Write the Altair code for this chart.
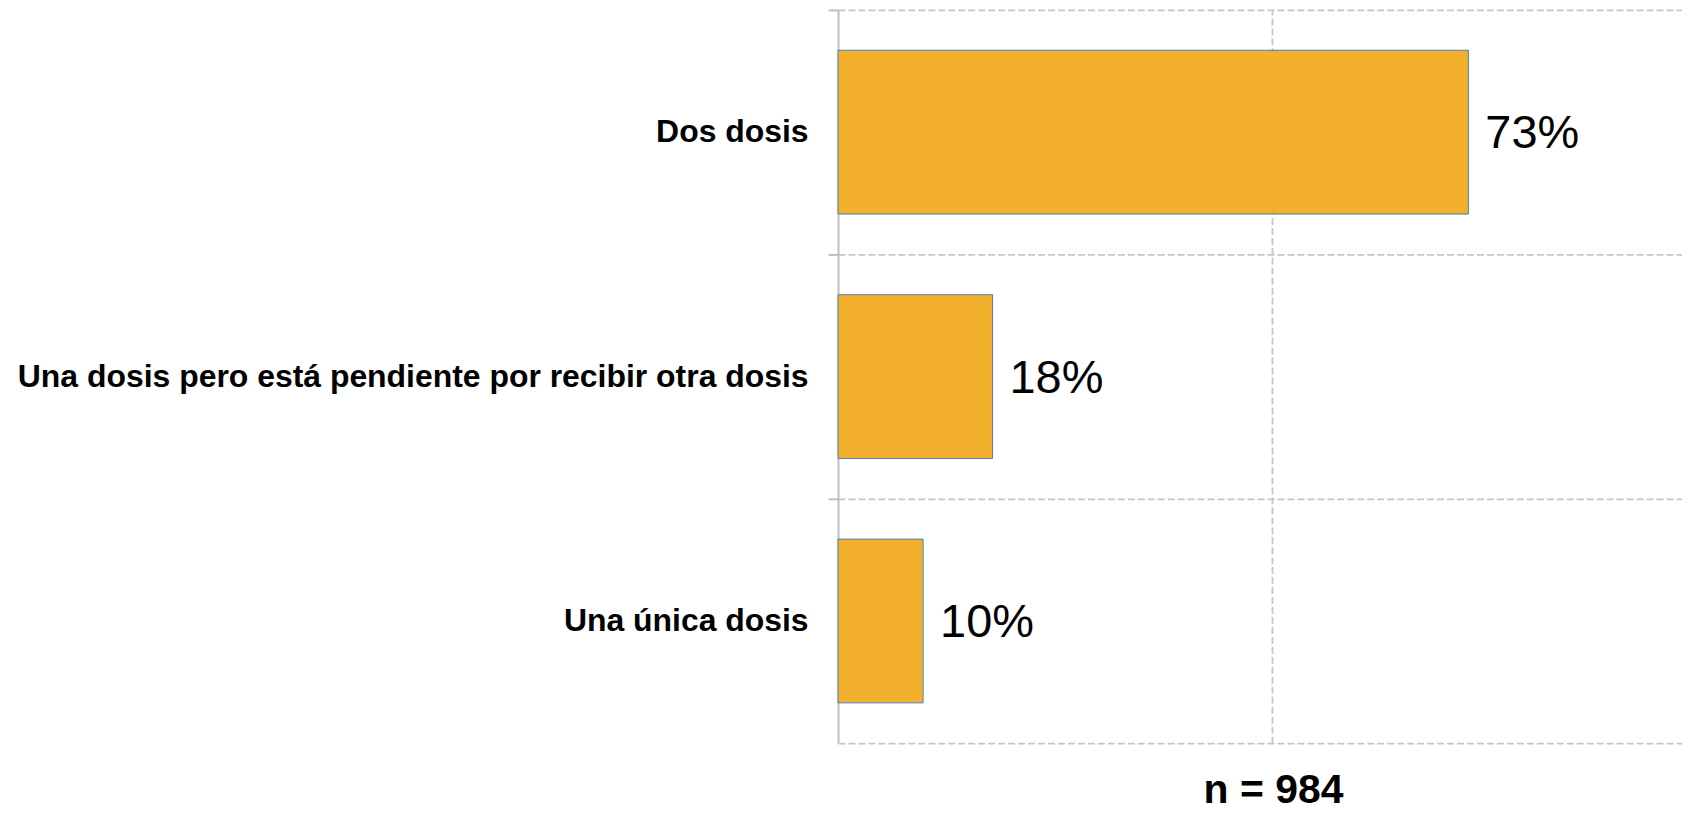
import altair as alt
import pandas as pd

categories = [
    "Dos dosis",
    "Una dosis pero está pendiente por recibir otra dosis",
    "Una única dosis",
]
values = [72.6, 17.8, 9.8]
labels = ["73%", "18%", "10%"]
n_label = "n = 984"

df = pd.DataFrame({"cat": categories, "val": values, "lab": labels})

grid_color = "#C6C6C6"
axis_color = "#BFBFBF"

x_scale = alt.Scale(domain=[0, 97.2], nice=False, zero=True)
y_scale = alt.Scale(domain=categories, paddingInner=0, paddingOuter=0)

x_enc = alt.X(
    "val:Q",
    scale=x_scale,
    axis=alt.Axis(
        values=[50],
        grid=True,
        gridDash=[7, 3],
        gridColor=grid_color,
        gridWidth=1.8,
        labels=False,
        ticks=False,
        domain=True,
        domainDash=[7, 3],
        domainColor=grid_color,
        domainWidth=1.8,
        title=n_label,
        titleFont="Liberation Sans",
        titleFontSize=41,
        titleFontWeight="bold",
        titleColor="black",
        titleBaseline="alphabetic",
        titlePadding=59,
        titleX=436,
        titleAlign="center",
    ),
)

y_enc = alt.Y(
    "cat:N",
    scale=y_scale,
    sort=categories,
    axis=alt.Axis(
        title=None,
        bandPosition=0,
        labelFont="Liberation Sans",
        labelFontSize=32,
        labelFontWeight="bold",
        labelColor="black",
        labelLimit=2000,
        labelPadding=20,
        ticks=True,
        tickSize=10,
        tickColor=axis_color,
        tickWidth=2,
        domain=True,
        domainColor=axis_color,
        domainWidth=2,
        grid=True,
        gridDash=[7, 3],
        gridColor=grid_color,
        gridWidth=1.8,
    ),
)

base = alt.Chart(df).encode(x=x_enc, y=y_enc)

bars = base.mark_bar(
    color="#F2B02C",
    stroke="#4A7EBB",
    strokeWidth=1,
    height=alt.RelativeBandSize(band=0.67),
)

text = base.mark_text(
    align="left",
    baseline="alphabetic",
    dx=17,
    dy=16,
    fontSize=47,
    font="Liberation Sans",
    color="black",
).encode(text="lab:N")

chart = (
    alt.layer(bars, text)
    .properties(
        width=846,
        height=735,
        autosize=alt.AutoSizeParams(type="none"),
        padding={"left": 832, "top": 1, "right": 0, "bottom": 64},
    )
    .configure_view(stroke="transparent")
)

chart.save("out.html", embed_options={"renderer": "svg", "actions": False})
